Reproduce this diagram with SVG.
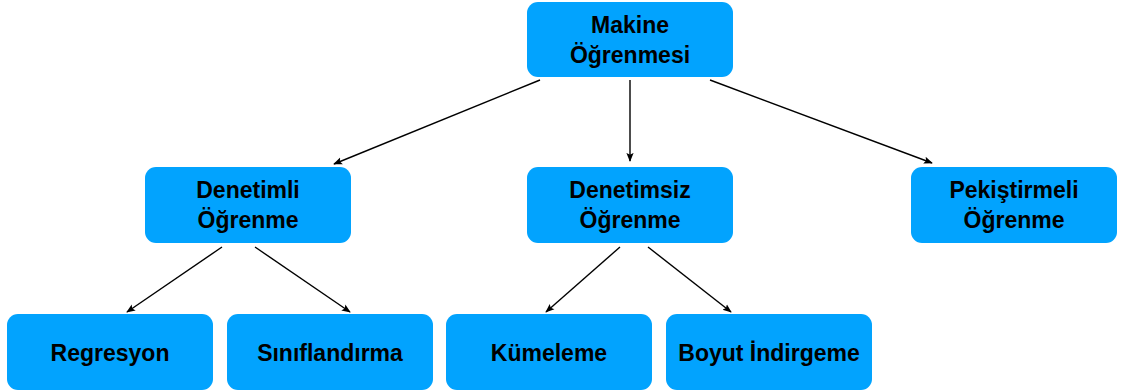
<svg xmlns="http://www.w3.org/2000/svg" width="1121" height="392" viewBox="0 0 1121 392">
  <style>
    .box { fill: #02A3FE; }
    .lbl { font-family: "Liberation Sans", Arial, sans-serif; font-weight: bold; font-size: 23px; fill: #000; text-anchor: middle; }
    .edge { stroke: #000; stroke-width: 1.4; fill: none; marker-end: url(#arrow); }
  </style>
  <defs>
    <marker id="arrow" viewBox="0 0 10 10" refX="9" refY="5" markerWidth="9" markerHeight="9" markerUnits="userSpaceOnUse" orient="auto">
      <path d="M0,1 L10,5 L0,9 L2,5 Z" fill="#000"/>
    </marker>
  </defs>

  <g id="connectors">
    <line class="edge" x1="540" y1="80" x2="334" y2="164"/>
    <line class="edge" x1="630" y1="80" x2="630" y2="161"/>
    <line class="edge" x1="710" y1="80" x2="932" y2="163"/>
    <line class="edge" x1="222" y1="247" x2="127" y2="312"/>
    <line class="edge" x1="255" y1="247" x2="350" y2="312"/>
    <line class="edge" x1="620" y1="247" x2="546" y2="312"/>
    <line class="edge" x1="648" y1="247" x2="731" y2="312"/>
  </g>

  <g id="makine-ogrenmesi">
    <rect class="box" x="527" y="2" width="206" height="75" rx="11"/>
    <text class="lbl" x="630" y="33">Makine</text>
    <text class="lbl" x="630" y="63">Öğrenmesi</text>
  </g>

  <g id="denetimli">
    <rect class="box" x="145" y="167" width="206" height="76" rx="11"/>
    <text class="lbl" x="248" y="198">Denetimli</text>
    <text class="lbl" x="248" y="228">Öğrenme</text>
  </g>

  <g id="denetimsiz">
    <rect class="box" x="527" y="167" width="206" height="76" rx="11"/>
    <text class="lbl" x="630" y="198">Denetimsiz</text>
    <text class="lbl" x="630" y="228">Öğrenme</text>
  </g>

  <g id="pekistirmeli">
    <rect class="box" x="911" y="167" width="206" height="76" rx="11"/>
    <text class="lbl" x="1014" y="198">Pekiştirmeli</text>
    <text class="lbl" x="1014" y="228">Öğrenme</text>
  </g>

  <g id="regresyon">
    <rect class="box" x="7" y="314" width="206" height="76" rx="11"/>
    <text class="lbl" x="110" y="361">Regresyon</text>
  </g>

  <g id="siniflandirma">
    <rect class="box" x="227" y="314" width="206" height="76" rx="11"/>
    <text class="lbl" x="330" y="361">Sınıflandırma</text>
  </g>

  <g id="kumeleme">
    <rect class="box" x="446" y="314" width="206" height="76" rx="11"/>
    <text class="lbl" x="549" y="361">Kümeleme</text>
  </g>

  <g id="boyut-indirgeme">
    <rect class="box" x="666" y="314" width="206" height="76" rx="11"/>
    <text class="lbl" x="769" y="361">Boyut İndirgeme</text>
  </g>
</svg>
